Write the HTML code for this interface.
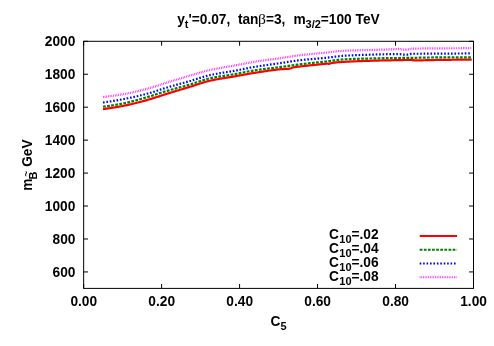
<!DOCTYPE html>
<html><head><meta charset="utf-8"><title>plot</title>
<style>
html,body{margin:0;padding:0;background:#fff;}
svg{display:block;will-change:transform;opacity:0.999;}
text{font-family:"Liberation Sans",sans-serif;font-weight:bold;fill:#000;}
.s{font-family:"Liberation Serif",serif;font-weight:normal;}
</style></head><body>
<svg width="494" height="346" viewBox="0 0 494 346">
<rect width="494" height="346" fill="#fff"/>
<g stroke="#000" stroke-width="1" fill="none">
<rect x="83.65" y="41.3" width="389.85" height="247.10"/>
<path d="M83.65,271.93h4.4 M473.5,271.93h-4.4"/>
<path d="M83.65,238.98h4.4 M473.5,238.98h-4.4"/>
<path d="M83.65,206.03h4.4 M473.5,206.03h-4.4"/>
<path d="M83.65,173.09h4.4 M473.5,173.09h-4.4"/>
<path d="M83.65,140.14h4.4 M473.5,140.14h-4.4"/>
<path d="M83.65,107.19h4.4 M473.5,107.19h-4.4"/>
<path d="M83.65,74.25h4.4 M473.5,74.25h-4.4"/>
<path d="M83.65,41.30h4.4 M473.5,41.30h-4.4"/>
<path d="M83.65,288.4v-4.4 M83.65,41.3v4.4"/>
<path d="M161.62,288.4v-4.4 M161.62,41.3v4.4"/>
<path d="M239.59,288.4v-4.4 M239.59,41.3v4.4"/>
<path d="M317.56,288.4v-4.4 M317.56,41.3v4.4"/>
<path d="M395.53,288.4v-4.4 M395.53,41.3v4.4"/>
<path d="M473.50,288.4v-4.4 M473.50,41.3v4.4"/>
</g>
<g font-size="13.72" text-anchor="end">
<text x="75.4" y="276.83">600</text>
<text x="75.4" y="243.88">800</text>
<text x="75.4" y="210.93">1000</text>
<text x="75.4" y="177.99">1200</text>
<text x="75.4" y="145.04">1400</text>
<text x="75.4" y="112.09">1600</text>
<text x="75.4" y="79.15">1800</text>
<text x="75.4" y="46.20">2000</text>
</g>
<g font-size="13.72" text-anchor="middle">
<text x="83.75" y="306.2">0.00</text>
<text x="161.72" y="306.2">0.20</text>
<text x="239.69" y="306.2">0.40</text>
<text x="317.66" y="306.2">0.60</text>
<text x="395.63" y="306.2">0.80</text>
<text x="473.60" y="306.2">1.00</text>
</g>
<text x="177.2" y="24.0" font-size="13.72">y<tspan font-size="10.98" dy="4.1">t</tspan><tspan dy="-4.1">'=0.07,</tspan></text>
<text x="237.9" y="24.0" font-size="13.72">tan</text>
<text x="258.1" y="24.3" font-size="15.6" class="s">β</text>
<text x="265.9" y="24.0" font-size="13.72">=3,</text>
<text x="293.4" y="24.0" font-size="13.72">m<tspan font-size="10.98" dy="4.1">3/2</tspan><tspan dy="-4.1">=100 TeV</tspan></text>
<text x="270.55" y="325.6" font-size="13.72">C<tspan font-size="10.98" dy="4.1">5</tspan></text>
<g transform="translate(32.4,190.8) rotate(-90)"><text x="0" y="0" font-size="13.72">m</text><text x="11.3" y="4.1" font-size="10.98">B</text><text x="23.94" y="0" font-size="13.72">GeV</text><text x="17.1" y="-3.1" font-size="9.6" text-anchor="middle">~</text></g>
<text x="329.0" y="239.10" font-size="13.72">C<tspan font-size="10.98" dy="4.2" dx="0.4">10</tspan><tspan dy="-4.2">=.02</tspan></text>
<path d="M419.7,236.05H457.1" stroke="#ff0000" stroke-width="2.06" fill="none"/>
<text x="329.0" y="253.22" font-size="13.72">C<tspan font-size="10.98" dy="4.2" dx="0.4">10</tspan><tspan dy="-4.2">=.04</tspan></text>
<path d="M419.7,249.77H457.1" stroke="#008000" stroke-width="2.06" fill="none" stroke-dasharray="2.744 1.372"/>
<text x="329.0" y="266.84" font-size="13.72">C<tspan font-size="10.98" dy="4.2" dx="0.4">10</tspan><tspan dy="-4.2">=.06</tspan></text>
<path d="M419.7,263.49H457.1" stroke="#0000ff" stroke-width="2.06" fill="none" stroke-dasharray="1.612 1.818"/>
<text x="329.0" y="280.56" font-size="13.72">C<tspan font-size="10.98" dy="4.2" dx="0.4">10</tspan><tspan dy="-4.2">=.08</tspan></text>
<path d="M419.7,277.21H457.1" stroke="#ff00ff" stroke-width="2.06" fill="none" stroke-dasharray="0.686 1.029"/>
<path d="M103.00,109.05 L104.00,108.93 L105.00,108.80 L106.00,108.67 L107.00,108.54 L108.00,108.40 L109.00,108.26 L110.00,108.11 L111.00,107.96 L112.00,107.81 L113.00,107.65 L114.00,107.49 L115.00,107.33 L116.00,107.16 L117.00,106.99 L118.00,106.81 L119.00,106.64 L120.00,106.46 L121.00,106.27 L122.00,106.09 L123.00,105.90 L124.00,105.71 L125.00,105.51 L126.00,105.30 L127.00,105.10 L128.00,104.88 L129.00,104.66 L130.00,104.44 L131.00,104.21 L132.00,103.97 L133.00,103.74 L134.00,103.50 L135.00,103.25 L136.00,103.00 L137.00,102.75 L138.00,102.49 L139.00,102.23 L140.00,101.97 L141.00,101.71 L142.00,101.44 L143.00,101.17 L144.00,100.90 L145.00,100.63 L146.00,100.35 L147.00,100.08 L148.00,99.80 L149.00,99.52 L150.00,99.22 L151.00,98.92 L152.00,98.62 L153.00,98.30 L154.00,97.98 L155.00,97.66 L156.00,97.33 L157.00,97.00 L158.00,96.67 L159.00,96.34 L160.00,96.01 L161.00,95.68 L162.00,95.36 L163.00,95.03 L164.00,94.71 L165.00,94.40 L166.00,94.09 L167.00,93.78 L168.00,93.47 L169.00,93.16 L170.00,92.86 L171.00,92.55 L172.00,92.25 L173.00,91.94 L174.00,91.64 L175.00,91.34 L176.00,91.03 L177.00,90.73 L178.00,90.43 L179.00,90.13 L180.00,89.82 L181.00,89.52 L182.00,89.22 L183.00,88.92 L184.00,88.62 L185.00,88.32 L186.00,88.01 L187.00,87.71 L188.00,87.41 L189.00,87.10 L190.00,86.80 L191.00,86.49 L192.00,86.18 L193.00,85.86 L194.00,85.53 L195.00,85.20 L196.00,84.87 L197.00,84.54 L198.00,84.21 L199.00,83.88 L200.00,83.55 L201.00,83.23 L202.00,82.91 L203.00,82.60 L204.00,82.30 L205.00,82.00 L206.00,81.72 L207.00,81.44 L208.00,81.18 L209.00,80.93 L210.00,80.70 L211.00,80.48 L212.00,80.26 L213.00,80.06 L214.00,79.86 L215.00,79.66 L216.00,79.47 L217.00,79.29 L218.00,79.11 L219.00,78.93 L220.00,78.76 L221.00,78.59 L222.00,78.43 L223.00,78.26 L224.00,78.10 L225.00,77.94 L226.00,77.78 L227.00,77.62 L228.00,77.46 L229.00,77.30 L230.00,77.14 L231.00,76.98 L232.00,76.81 L233.00,76.64 L234.00,76.47 L235.00,76.30 L236.00,76.12 L237.00,75.95 L238.00,75.77 L239.00,75.59 L240.00,75.41 L241.00,75.22 L242.00,75.04 L243.00,74.86 L244.00,74.68 L245.00,74.50 L246.00,74.32 L247.00,74.14 L248.00,73.97 L249.00,73.79 L250.00,73.62 L251.00,73.45 L252.00,73.28 L253.00,73.12 L254.00,72.96 L255.00,72.80 L256.00,72.64 L257.00,72.49 L258.00,72.33 L259.00,72.17 L260.00,72.01 L261.00,71.85 L262.00,71.70 L263.00,71.54 L264.00,71.38 L265.00,71.23 L266.00,71.08 L267.00,70.93 L268.00,70.78 L269.00,70.64 L270.00,70.49 L271.00,70.36 L272.00,70.22 L273.00,70.09 L274.00,69.96 L275.00,69.84 L276.00,69.72 L277.00,69.61 L278.00,69.50 L279.00,69.40 L280.00,69.30 L281.00,69.22 L282.00,69.15 L283.00,69.09 L284.00,69.04 L285.00,68.99 L286.00,68.93 L287.00,68.87 L288.00,68.79 L289.00,68.68 L290.00,68.55 L291.00,68.20 L292.00,67.71 L293.00,67.44 L294.00,67.25 L295.00,67.10 L296.00,66.96 L297.00,66.84 L298.00,66.73 L299.00,66.62 L300.00,66.50 L301.00,66.38 L302.00,66.26 L303.00,66.14 L304.00,66.02 L305.00,65.91 L306.00,65.80 L307.00,65.69 L308.00,65.59 L309.00,65.48 L310.00,65.38 L311.00,65.27 L312.00,65.17 L313.00,65.07 L314.00,64.97 L315.00,64.87 L316.00,64.76 L317.00,64.66 L318.00,64.56 L319.00,64.46 L320.00,64.35 L321.00,64.24 L322.00,64.14 L323.00,64.03 L324.00,63.91 L325.00,63.80 L326.00,63.65 L327.00,63.52 L328.00,63.63 L329.00,64.00 L330.00,63.53 L331.00,63.20 L332.00,63.02 L333.00,62.85 L334.00,62.71 L335.00,62.58 L336.00,62.46 L337.00,62.36 L338.00,62.27 L339.00,62.18 L340.00,62.11 L341.00,62.04 L342.00,61.98 L343.00,61.92 L344.00,61.86 L345.00,61.80 L346.00,61.74 L347.00,61.68 L348.00,61.63 L349.00,61.58 L350.00,61.53 L351.00,61.48 L352.00,61.43 L353.00,61.39 L354.00,61.35 L355.00,61.31 L356.00,61.27 L357.00,61.23 L358.00,61.19 L359.00,61.15 L360.00,61.12 L361.00,61.08 L362.00,61.05 L363.00,61.02 L364.00,60.99 L365.00,60.95 L366.00,60.92 L367.00,60.89 L368.00,60.86 L369.00,60.83 L370.00,60.80 L371.00,60.77 L372.00,60.74 L373.00,60.71 L374.00,60.68 L375.00,60.65 L376.00,60.63 L377.00,60.60 L378.00,60.57 L379.00,60.55 L380.00,60.52 L381.00,60.50 L382.00,60.47 L383.00,60.45 L384.00,60.43 L385.00,60.40 L386.00,60.38 L387.00,60.36 L388.00,60.34 L389.00,60.32 L390.00,60.30 L391.00,60.28 L392.00,60.26 L393.00,60.24 L394.00,60.22 L395.00,60.20 L396.00,60.17 L397.00,60.15 L398.00,60.13 L399.00,60.11 L400.00,60.09 L401.00,60.07 L402.00,60.05 L403.00,60.04 L404.00,60.02 L405.00,60.00 L406.00,59.99 L407.00,59.98 L408.00,59.97 L409.00,59.96 L410.00,59.95 L411.00,59.95 L412.00,59.95 L413.00,60.13 L414.00,60.40 L415.00,60.45 L416.00,60.45 L417.00,60.44 L418.00,60.42 L419.00,60.40 L420.00,60.38 L421.00,60.35 L422.00,60.32 L423.00,60.29 L424.00,60.26 L425.00,60.23 L426.00,60.20 L427.00,60.17 L428.00,60.14 L429.00,60.12 L430.00,60.10 L431.00,60.08 L432.00,60.07 L433.00,60.05 L434.00,60.03 L435.00,60.02 L436.00,60.00 L437.00,59.99 L438.00,59.97 L439.00,59.95 L440.00,59.94 L441.00,59.92 L442.00,59.91 L443.00,59.89 L444.00,59.88 L445.00,59.86 L446.00,59.85 L447.00,59.83 L448.00,59.82 L449.00,59.81 L450.00,59.79 L451.00,59.78 L452.00,59.77 L453.00,59.76 L454.00,59.74 L455.00,59.73 L456.00,59.72 L457.00,59.71 L458.00,59.70 L459.00,59.69 L460.00,59.68 L461.00,59.67 L462.00,59.66 L463.00,59.65 L464.00,59.64 L465.00,59.64 L466.00,59.63 L467.00,59.62 L468.00,59.62 L469.00,59.61 L470.00,59.61 L471.00,59.60 L471.70,59.60" stroke="#ff0000" stroke-width="2.2" fill="none" stroke-linejoin="round"/>
<path d="M103.00,106.60 L104.00,106.49 L105.00,106.38 L106.00,106.25 L107.00,106.13 L108.00,106.00 L109.00,105.86 L110.00,105.72 L111.00,105.57 L112.00,105.42 L113.00,105.27 L114.00,105.11 L115.00,104.94 L116.00,104.78 L117.00,104.60 L118.00,104.43 L119.00,104.25 L120.00,104.07 L121.00,103.88 L122.00,103.69 L123.00,103.50 L124.00,103.30 L125.00,103.10 L126.00,102.88 L127.00,102.66 L128.00,102.43 L129.00,102.19 L130.00,101.94 L131.00,101.69 L132.00,101.44 L133.00,101.18 L134.00,100.91 L135.00,100.64 L136.00,100.36 L137.00,100.09 L138.00,99.80 L139.00,99.52 L140.00,99.23 L141.00,98.94 L142.00,98.65 L143.00,98.36 L144.00,98.07 L145.00,97.77 L146.00,97.48 L147.00,97.19 L148.00,96.90 L149.00,96.61 L150.00,96.30 L151.00,96.00 L152.00,95.68 L153.00,95.36 L154.00,95.04 L155.00,94.71 L156.00,94.38 L157.00,94.05 L158.00,93.72 L159.00,93.40 L160.00,93.07 L161.00,92.75 L162.00,92.43 L163.00,92.11 L164.00,91.80 L165.00,91.50 L166.00,91.20 L167.00,90.91 L168.00,90.62 L169.00,90.33 L170.00,90.05 L171.00,89.77 L172.00,89.49 L173.00,89.22 L174.00,88.94 L175.00,88.67 L176.00,88.40 L177.00,88.12 L178.00,87.85 L179.00,87.58 L180.00,87.31 L181.00,87.04 L182.00,86.76 L183.00,86.49 L184.00,86.21 L185.00,85.93 L186.00,85.65 L187.00,85.37 L188.00,85.08 L189.00,84.79 L190.00,84.50 L191.00,84.20 L192.00,83.89 L193.00,83.57 L194.00,83.24 L195.00,82.91 L196.00,82.57 L197.00,82.23 L198.00,81.89 L199.00,81.55 L200.00,81.21 L201.00,80.88 L202.00,80.55 L203.00,80.23 L204.00,79.92 L205.00,79.61 L206.00,79.32 L207.00,79.04 L208.00,78.78 L209.00,78.53 L210.00,78.30 L211.00,78.08 L212.00,77.88 L213.00,77.68 L214.00,77.49 L215.00,77.30 L216.00,77.12 L217.00,76.95 L218.00,76.78 L219.00,76.62 L220.00,76.46 L221.00,76.30 L222.00,76.15 L223.00,75.99 L224.00,75.84 L225.00,75.69 L226.00,75.54 L227.00,75.39 L228.00,75.24 L229.00,75.09 L230.00,74.93 L231.00,74.77 L232.00,74.61 L233.00,74.45 L234.00,74.28 L235.00,74.10 L236.00,73.92 L237.00,73.73 L238.00,73.54 L239.00,73.35 L240.00,73.15 L241.00,72.95 L242.00,72.75 L243.00,72.54 L244.00,72.34 L245.00,72.14 L246.00,71.94 L247.00,71.74 L248.00,71.54 L249.00,71.35 L250.00,71.16 L251.00,70.98 L252.00,70.80 L253.00,70.62 L254.00,70.46 L255.00,70.30 L256.00,70.15 L257.00,70.00 L258.00,69.86 L259.00,69.72 L260.00,69.58 L261.00,69.45 L262.00,69.32 L263.00,69.19 L264.00,69.06 L265.00,68.94 L266.00,68.82 L267.00,68.70 L268.00,68.58 L269.00,68.46 L270.00,68.34 L271.00,68.22 L272.00,68.10 L273.00,67.98 L274.00,67.86 L275.00,67.74 L276.00,67.61 L277.00,67.49 L278.00,67.36 L279.00,67.23 L280.00,67.10 L281.00,66.96 L282.00,66.83 L283.00,66.69 L284.00,66.54 L285.00,66.40 L286.00,66.26 L287.00,66.11 L288.00,65.96 L289.00,65.82 L290.00,65.67 L291.00,65.53 L292.00,65.38 L293.00,65.24 L294.00,65.10 L295.00,64.96 L296.00,64.82 L297.00,64.68 L298.00,64.55 L299.00,64.42 L300.00,64.30 L301.00,64.18 L302.00,64.06 L303.00,63.94 L304.00,63.83 L305.00,63.72 L306.00,63.61 L307.00,63.50 L308.00,63.39 L309.00,63.28 L310.00,63.18 L311.00,63.07 L312.00,62.97 L313.00,62.86 L314.00,62.76 L315.00,62.66 L316.00,62.55 L317.00,62.45 L318.00,62.35 L319.00,62.24 L320.00,62.14 L321.00,62.03 L322.00,61.93 L323.00,61.82 L324.00,61.71 L325.00,61.60 L326.00,61.49 L327.00,61.36 L328.00,61.24 L329.00,61.11 L330.00,60.97 L331.00,60.84 L332.00,60.70 L333.00,60.57 L334.00,60.43 L335.00,60.30 L336.00,60.17 L337.00,60.04 L338.00,59.92 L339.00,59.81 L340.00,59.70 L341.00,59.60 L342.00,59.51 L343.00,59.43 L344.00,59.36 L345.00,59.30 L346.00,59.25 L347.00,59.20 L348.00,59.16 L349.00,59.11 L350.00,59.07 L351.00,59.03 L352.00,59.00 L353.00,58.96 L354.00,58.93 L355.00,58.89 L356.00,58.86 L357.00,58.83 L358.00,58.80 L359.00,58.77 L360.00,58.75 L361.00,58.72 L362.00,58.69 L363.00,58.67 L364.00,58.64 L365.00,58.62 L366.00,58.60 L367.00,58.57 L368.00,58.55 L369.00,58.52 L370.00,58.50 L371.00,58.48 L372.00,58.45 L373.00,58.43 L374.00,58.41 L375.00,58.38 L376.00,58.36 L377.00,58.34 L378.00,58.32 L379.00,58.30 L380.00,58.28 L381.00,58.26 L382.00,58.24 L383.00,58.22 L384.00,58.20 L385.00,58.18 L386.00,58.16 L387.00,58.15 L388.00,58.13 L389.00,58.12 L390.00,58.10 L391.00,58.09 L392.00,58.07 L393.00,58.06 L394.00,58.04 L395.00,58.03 L396.00,58.02 L397.00,58.01 L398.00,58.00 L399.00,57.99 L400.00,57.98 L401.00,57.97 L402.00,57.96 L403.00,57.95 L404.00,57.93 L405.00,57.92 L406.00,57.91 L407.00,57.90 L408.00,57.89 L409.00,57.88 L410.00,57.87 L411.00,57.86 L412.00,57.84 L413.00,57.83 L414.00,57.81 L415.00,57.80 L416.00,57.78 L417.00,57.76 L418.00,57.74 L419.00,57.72 L420.00,57.70 L421.00,57.67 L422.00,57.65 L423.00,57.63 L424.00,57.60 L425.00,57.58 L426.00,57.56 L427.00,57.54 L428.00,57.52 L429.00,57.51 L430.00,57.50 L431.00,57.49 L432.00,57.48 L433.00,57.47 L434.00,57.47 L435.00,57.46 L436.00,57.45 L437.00,57.44 L438.00,57.44 L439.00,57.43 L440.00,57.42 L441.00,57.41 L442.00,57.41 L443.00,57.40 L444.00,57.39 L445.00,57.39 L446.00,57.38 L447.00,57.38 L448.00,57.37 L449.00,57.37 L450.00,57.36 L451.00,57.35 L452.00,57.35 L453.00,57.34 L454.00,57.34 L455.00,57.34 L456.00,57.33 L457.00,57.33 L458.00,57.32 L459.00,57.32 L460.00,57.32 L461.00,57.32 L462.00,57.31 L463.00,57.31 L464.00,57.31 L465.00,57.31 L466.00,57.30 L467.00,57.30 L468.00,57.30 L469.00,57.30 L470.00,57.30 L471.00,57.30 L471.70,57.30" stroke="#008000" stroke-width="2.2" fill="none" stroke-linejoin="round" stroke-dasharray="2.744 1.372"/>
<path d="M103.00,102.50 L104.00,102.36 L105.00,102.22 L106.00,102.08 L107.00,101.93 L108.00,101.78 L109.00,101.62 L110.00,101.47 L111.00,101.31 L112.00,101.15 L113.00,100.98 L114.00,100.82 L115.00,100.65 L116.00,100.47 L117.00,100.30 L118.00,100.12 L119.00,99.94 L120.00,99.76 L121.00,99.58 L122.00,99.39 L123.00,99.20 L124.00,99.01 L125.00,98.81 L126.00,98.62 L127.00,98.42 L128.00,98.21 L129.00,98.01 L130.00,97.80 L131.00,97.59 L132.00,97.37 L133.00,97.15 L134.00,96.93 L135.00,96.71 L136.00,96.48 L137.00,96.25 L138.00,96.02 L139.00,95.78 L140.00,95.54 L141.00,95.30 L142.00,95.05 L143.00,94.80 L144.00,94.55 L145.00,94.29 L146.00,94.03 L147.00,93.77 L148.00,93.50 L149.00,93.23 L150.00,92.94 L151.00,92.64 L152.00,92.33 L153.00,92.02 L154.00,91.70 L155.00,91.37 L156.00,91.04 L157.00,90.70 L158.00,90.37 L159.00,90.03 L160.00,89.70 L161.00,89.37 L162.00,89.04 L163.00,88.72 L164.00,88.41 L165.00,88.10 L166.00,87.80 L167.00,87.50 L168.00,87.21 L169.00,86.92 L170.00,86.63 L171.00,86.34 L172.00,86.06 L173.00,85.78 L174.00,85.49 L175.00,85.21 L176.00,84.93 L177.00,84.65 L178.00,84.38 L179.00,84.10 L180.00,83.82 L181.00,83.54 L182.00,83.26 L183.00,82.98 L184.00,82.70 L185.00,82.42 L186.00,82.14 L187.00,81.86 L188.00,81.57 L189.00,81.29 L190.00,81.00 L191.00,80.71 L192.00,80.41 L193.00,80.10 L194.00,79.79 L195.00,79.47 L196.00,79.15 L197.00,78.84 L198.00,78.52 L199.00,78.20 L200.00,77.88 L201.00,77.57 L202.00,77.26 L203.00,76.96 L204.00,76.66 L205.00,76.38 L206.00,76.10 L207.00,75.83 L208.00,75.57 L209.00,75.33 L210.00,75.10 L211.00,74.88 L212.00,74.67 L213.00,74.47 L214.00,74.27 L215.00,74.08 L216.00,73.89 L217.00,73.71 L218.00,73.54 L219.00,73.36 L220.00,73.19 L221.00,73.03 L222.00,72.87 L223.00,72.70 L224.00,72.54 L225.00,72.38 L226.00,72.22 L227.00,72.06 L228.00,71.90 L229.00,71.74 L230.00,71.57 L231.00,71.41 L232.00,71.24 L233.00,71.06 L234.00,70.88 L235.00,70.70 L236.00,70.51 L237.00,70.32 L238.00,70.13 L239.00,69.93 L240.00,69.73 L241.00,69.52 L242.00,69.32 L243.00,69.11 L244.00,68.91 L245.00,68.70 L246.00,68.50 L247.00,68.30 L248.00,68.10 L249.00,67.90 L250.00,67.70 L251.00,67.51 L252.00,67.33 L253.00,67.15 L254.00,66.97 L255.00,66.80 L256.00,66.64 L257.00,66.47 L258.00,66.32 L259.00,66.16 L260.00,66.01 L261.00,65.86 L262.00,65.71 L263.00,65.57 L264.00,65.43 L265.00,65.29 L266.00,65.15 L267.00,65.01 L268.00,64.87 L269.00,64.73 L270.00,64.60 L271.00,64.46 L272.00,64.32 L273.00,64.19 L274.00,64.05 L275.00,63.91 L276.00,63.77 L277.00,63.63 L278.00,63.49 L279.00,63.35 L280.00,63.20 L281.00,63.05 L282.00,62.90 L283.00,62.74 L284.00,62.59 L285.00,62.43 L286.00,62.26 L287.00,62.10 L288.00,61.94 L289.00,61.78 L290.00,61.62 L291.00,61.46 L292.00,61.31 L293.00,61.15 L294.00,61.00 L295.00,60.85 L296.00,60.71 L297.00,60.58 L298.00,60.44 L299.00,60.32 L300.00,60.20 L301.00,60.09 L302.00,59.98 L303.00,59.87 L304.00,59.77 L305.00,59.67 L306.00,59.58 L307.00,59.48 L308.00,59.39 L309.00,59.30 L310.00,59.22 L311.00,59.13 L312.00,59.05 L313.00,58.96 L314.00,58.88 L315.00,58.80 L316.00,58.71 L317.00,58.63 L318.00,58.54 L319.00,58.46 L320.00,58.37 L321.00,58.28 L322.00,58.19 L323.00,58.10 L324.00,58.00 L325.00,57.90 L326.00,57.80 L327.00,57.69 L328.00,57.57 L329.00,57.45 L330.00,57.33 L331.00,57.20 L332.00,57.08 L333.00,56.95 L334.00,56.82 L335.00,56.70 L336.00,56.57 L337.00,56.45 L338.00,56.34 L339.00,56.22 L340.00,56.12 L341.00,56.02 L342.00,55.92 L343.00,55.84 L344.00,55.77 L345.00,55.70 L346.00,55.64 L347.00,55.59 L348.00,55.53 L349.00,55.48 L350.00,55.43 L351.00,55.38 L352.00,55.34 L353.00,55.29 L354.00,55.25 L355.00,55.21 L356.00,55.17 L357.00,55.13 L358.00,55.09 L359.00,55.05 L360.00,55.02 L361.00,54.98 L362.00,54.95 L363.00,54.92 L364.00,54.89 L365.00,54.85 L366.00,54.82 L367.00,54.79 L368.00,54.76 L369.00,54.73 L370.00,54.70 L371.00,54.67 L372.00,54.64 L373.00,54.60 L374.00,54.57 L375.00,54.54 L376.00,54.50 L377.00,54.47 L378.00,54.44 L379.00,54.40 L380.00,54.37 L381.00,54.34 L382.00,54.32 L383.00,54.29 L384.00,54.27 L385.00,54.25 L386.00,54.23 L387.00,54.22 L388.00,54.21 L389.00,54.20 L390.00,54.20 L391.00,54.20 L392.00,54.20 L393.00,54.20 L394.00,54.20 L395.00,54.20 L396.00,54.20 L397.00,54.20 L398.00,54.20 L399.00,54.20 L400.00,54.20 L401.00,54.28 L402.00,54.45 L403.00,54.62 L404.00,54.70 L405.00,54.69 L406.00,54.67 L407.00,54.64 L408.00,54.60 L409.00,54.42 L410.00,54.11 L411.00,53.85 L412.00,53.79 L413.00,53.77 L414.00,53.76 L415.00,53.75 L416.00,53.74 L417.00,53.74 L418.00,53.73 L419.00,53.73 L420.00,53.73 L421.00,53.73 L422.00,53.72 L423.00,53.72 L424.00,53.72 L425.00,53.72 L426.00,53.71 L427.00,53.71 L428.00,53.71 L429.00,53.70 L430.00,53.70 L431.00,53.70 L432.00,53.69 L433.00,53.69 L434.00,53.68 L435.00,53.68 L436.00,53.67 L437.00,53.67 L438.00,53.66 L439.00,53.66 L440.00,53.65 L441.00,53.64 L442.00,53.64 L443.00,53.63 L444.00,53.63 L445.00,53.62 L446.00,53.61 L447.00,53.61 L448.00,53.60 L449.00,53.59 L450.00,53.59 L451.00,53.58 L452.00,53.57 L453.00,53.56 L454.00,53.56 L455.00,53.55 L456.00,53.54 L457.00,53.53 L458.00,53.52 L459.00,53.52 L460.00,53.51 L461.00,53.50 L462.00,53.49 L463.00,53.48 L464.00,53.47 L465.00,53.46 L466.00,53.46 L467.00,53.45 L468.00,53.44 L469.00,53.43 L470.00,53.42 L471.00,53.41 L471.70,53.40" stroke="#0000ff" stroke-width="2.2" fill="none" stroke-linejoin="round" stroke-dasharray="1.612 1.818"/>
<path d="M103.00,97.00 L104.00,96.90 L105.00,96.79 L106.00,96.67 L107.00,96.56 L108.00,96.43 L109.00,96.31 L110.00,96.18 L111.00,96.05 L112.00,95.91 L113.00,95.77 L114.00,95.63 L115.00,95.48 L116.00,95.33 L117.00,95.18 L118.00,95.02 L119.00,94.86 L120.00,94.70 L121.00,94.54 L122.00,94.37 L123.00,94.20 L124.00,94.03 L125.00,93.85 L126.00,93.66 L127.00,93.48 L128.00,93.28 L129.00,93.09 L130.00,92.88 L131.00,92.68 L132.00,92.47 L133.00,92.25 L134.00,92.03 L135.00,91.81 L136.00,91.58 L137.00,91.35 L138.00,91.12 L139.00,90.88 L140.00,90.64 L141.00,90.39 L142.00,90.15 L143.00,89.90 L144.00,89.64 L145.00,89.39 L146.00,89.13 L147.00,88.86 L148.00,88.60 L149.00,88.33 L150.00,88.04 L151.00,87.75 L152.00,87.45 L153.00,87.13 L154.00,86.82 L155.00,86.49 L156.00,86.16 L157.00,85.83 L158.00,85.50 L159.00,85.16 L160.00,84.83 L161.00,84.49 L162.00,84.16 L163.00,83.84 L164.00,83.51 L165.00,83.20 L166.00,82.89 L167.00,82.58 L168.00,82.27 L169.00,81.96 L170.00,81.65 L171.00,81.34 L172.00,81.03 L173.00,80.72 L174.00,80.41 L175.00,80.10 L176.00,79.80 L177.00,79.49 L178.00,79.18 L179.00,78.88 L180.00,78.58 L181.00,78.27 L182.00,77.97 L183.00,77.67 L184.00,77.37 L185.00,77.07 L186.00,76.78 L187.00,76.48 L188.00,76.19 L189.00,75.89 L190.00,75.60 L191.00,75.31 L192.00,75.01 L193.00,74.71 L194.00,74.42 L195.00,74.12 L196.00,73.82 L197.00,73.52 L198.00,73.22 L199.00,72.92 L200.00,72.63 L201.00,72.34 L202.00,72.06 L203.00,71.78 L204.00,71.50 L205.00,71.23 L206.00,70.97 L207.00,70.71 L208.00,70.47 L209.00,70.23 L210.00,70.00 L211.00,69.78 L212.00,69.56 L213.00,69.36 L214.00,69.15 L215.00,68.95 L216.00,68.76 L217.00,68.57 L218.00,68.38 L219.00,68.20 L220.00,68.02 L221.00,67.84 L222.00,67.66 L223.00,67.49 L224.00,67.32 L225.00,67.15 L226.00,66.98 L227.00,66.80 L228.00,66.63 L229.00,66.46 L230.00,66.29 L231.00,66.12 L232.00,65.94 L233.00,65.76 L234.00,65.58 L235.00,65.40 L236.00,65.21 L237.00,65.03 L238.00,64.84 L239.00,64.65 L240.00,64.45 L241.00,64.26 L242.00,64.07 L243.00,63.87 L244.00,63.68 L245.00,63.49 L246.00,63.30 L247.00,63.11 L248.00,62.92 L249.00,62.74 L250.00,62.56 L251.00,62.38 L252.00,62.20 L253.00,62.03 L254.00,61.86 L255.00,61.70 L256.00,61.54 L257.00,61.39 L258.00,61.23 L259.00,61.09 L260.00,60.94 L261.00,60.80 L262.00,60.65 L263.00,60.51 L264.00,60.38 L265.00,60.24 L266.00,60.10 L267.00,59.97 L268.00,59.84 L269.00,59.70 L270.00,59.57 L271.00,59.44 L272.00,59.30 L273.00,59.17 L274.00,59.04 L275.00,58.90 L276.00,58.76 L277.00,58.63 L278.00,58.49 L279.00,58.34 L280.00,58.20 L281.00,58.05 L282.00,57.90 L283.00,57.75 L284.00,57.59 L285.00,57.44 L286.00,57.28 L287.00,57.12 L288.00,56.96 L289.00,56.80 L290.00,56.64 L291.00,56.48 L292.00,56.33 L293.00,56.17 L294.00,56.02 L295.00,55.87 L296.00,55.73 L297.00,55.59 L298.00,55.45 L299.00,55.32 L300.00,55.20 L301.00,55.08 L302.00,54.96 L303.00,54.85 L304.00,54.74 L305.00,54.63 L306.00,54.53 L307.00,54.42 L308.00,54.32 L309.00,54.22 L310.00,54.12 L311.00,54.03 L312.00,53.93 L313.00,53.84 L314.00,53.74 L315.00,53.65 L316.00,53.56 L317.00,53.46 L318.00,53.37 L319.00,53.28 L320.00,53.18 L321.00,53.09 L322.00,52.99 L323.00,52.90 L324.00,52.80 L325.00,52.70 L326.00,52.60 L327.00,52.49 L328.00,52.38 L329.00,52.26 L330.00,52.15 L331.00,52.03 L332.00,51.91 L333.00,51.79 L334.00,51.68 L335.00,51.56 L336.00,51.45 L337.00,51.34 L338.00,51.24 L339.00,51.14 L340.00,51.04 L341.00,50.96 L342.00,50.88 L343.00,50.81 L344.00,50.75 L345.00,50.70 L346.00,50.66 L347.00,50.62 L348.00,50.58 L349.00,50.54 L350.00,50.51 L351.00,50.48 L352.00,50.44 L353.00,50.42 L354.00,50.39 L355.00,50.36 L356.00,50.34 L357.00,50.31 L358.00,50.29 L359.00,50.27 L360.00,50.24 L361.00,50.22 L362.00,50.20 L363.00,50.18 L364.00,50.15 L365.00,50.13 L366.00,50.11 L367.00,50.08 L368.00,50.06 L369.00,50.03 L370.00,50.00 L371.00,49.97 L372.00,49.94 L373.00,49.92 L374.00,49.89 L375.00,49.86 L376.00,49.83 L377.00,49.81 L378.00,49.78 L379.00,49.75 L380.00,49.72 L381.00,49.70 L382.00,49.67 L383.00,49.64 L384.00,49.61 L385.00,49.58 L386.00,49.54 L387.00,49.51 L388.00,49.47 L389.00,49.44 L390.00,49.40 L391.00,49.35 L392.00,49.30 L393.00,49.23 L394.00,49.16 L395.00,49.10 L396.00,49.04 L397.00,48.99 L398.00,48.96 L399.00,48.95 L400.00,49.04 L401.00,49.26 L402.00,49.51 L403.00,49.67 L404.00,49.70 L405.00,49.70 L406.00,49.70 L407.00,49.70 L408.00,49.65 L409.00,49.36 L410.00,48.96 L411.00,48.66 L412.00,48.59 L413.00,48.57 L414.00,48.56 L415.00,48.55 L416.00,48.54 L417.00,48.53 L418.00,48.51 L419.00,48.50 L420.00,48.49 L421.00,48.48 L422.00,48.47 L423.00,48.46 L424.00,48.45 L425.00,48.44 L426.00,48.43 L427.00,48.42 L428.00,48.41 L429.00,48.41 L430.00,48.40 L431.00,48.39 L432.00,48.39 L433.00,48.38 L434.00,48.37 L435.00,48.37 L436.00,48.36 L437.00,48.35 L438.00,48.35 L439.00,48.34 L440.00,48.33 L441.00,48.33 L442.00,48.32 L443.00,48.31 L444.00,48.31 L445.00,48.30 L446.00,48.30 L447.00,48.29 L448.00,48.28 L449.00,48.28 L450.00,48.27 L451.00,48.27 L452.00,48.26 L453.00,48.26 L454.00,48.25 L455.00,48.25 L456.00,48.24 L457.00,48.24 L458.00,48.24 L459.00,48.23 L460.00,48.23 L461.00,48.22 L462.00,48.22 L463.00,48.22 L464.00,48.21 L465.00,48.21 L466.00,48.21 L467.00,48.21 L468.00,48.21 L469.00,48.20 L470.00,48.20 L471.00,48.20 L471.70,48.20" stroke="#ff00ff" stroke-width="2.2" fill="none" stroke-linejoin="round" stroke-dasharray="0.686 1.029"/>
</svg>
</body></html>
